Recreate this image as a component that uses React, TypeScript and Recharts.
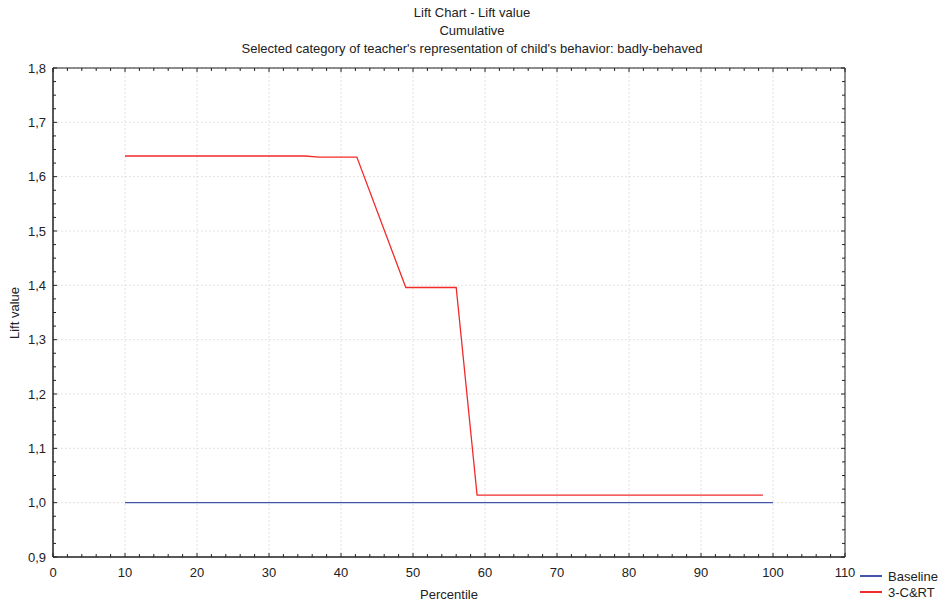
import React from "react";
import {
  LineChart,
  Line,
  XAxis,
  YAxis,
  CartesianGrid,
  ReferenceArea,
} from "recharts";

const titleLines = [
  "Lift Chart - Lift value",
  "Cumulative",
  "Selected category of teacher's representation of child's behavior: badly-behaved",
];

// percentile / lift value
const modelPct = [10, 35, 37, 42.2, 49, 56, 58.9, 98.6];
const modelLift = [1.638, 1.638, 1.636, 1.636, 1.396, 1.396, 1.014, 1.014];

const basePct = [10, 100];
const baseLift = [1.0, 1.0];

const xMajor = [0, 10, 20, 30, 40, 50, 60, 70, 80, 90, 100, 110];
const yMajor = [0.9, 1.0, 1.1, 1.2, 1.3, 1.4, 1.5, 1.6, 1.7, 1.8];

const seriesNames = ["Baseline", "3-C&RT"];
const seriesColors = ["#4257aa", "#f22a2a"];

const W = 944;
const H = 604;
const FONT = "'Liberation Sans', Arial, sans-serif";
const FS = 13;

// minor ticks: every 2 on x, every 0.025 on y
const xTicks: number[] = [];
for (let i = 0; i <= 55; i++) xTicks.push(i * 2);
const yTicks: number[] = [];
for (let i = 0; i <= 36; i++) yTicks.push(Math.round((0.9 + i * 0.025) * 1000) / 1000);

const isMajor = (v: number, step: number) =>
  Math.abs(v / step - Math.round(v / step)) < 1e-6;

const fmtY = (v: number) => v.toFixed(1).replace(".", ",");

const modelData = modelPct.map((p, i) => ({ pct: p, lift: modelLift[i] }));
const baseData = basePct.map((p, i) => ({ pct: p, lift: baseLift[i] }));

function BottomTick(props: any) {
  const { x, y, payload } = props;
  const major = isMajor(payload.value, 10);
  return (
    <g>
      <line x1={x} x2={x} y1={y} y2={y - (major ? 4 : 3)} stroke="#222" />
      {major && (
        <text x={x} y={y + 20} textAnchor="middle" fontSize={FS} fill="#222" fontFamily={FONT}>
          {payload.value}
        </text>
      )}
    </g>
  );
}

function TopTick(props: any) {
  const { x, y, payload } = props;
  const major = isMajor(payload.value, 10);
  return <line x1={x} x2={x} y1={y} y2={y + (major ? 4 : 3)} stroke="#222" />;
}

function LeftTick(props: any) {
  const { x, y, payload } = props;
  const major = isMajor(payload.value, 0.1);
  return (
    <g>
      <line x1={x} x2={x + (major ? 4 : 3)} y1={y} y2={y} stroke="#222" />
      {major && (
        <text x={x - 7} y={y + 4.5} textAnchor="end" fontSize={FS} fill="#222" fontFamily={FONT}>
          {fmtY(payload.value)}
        </text>
      )}
    </g>
  );
}

function RightTick(props: any) {
  const { x, y, payload } = props;
  const major = isMajor(payload.value, 0.1);
  return <line x1={x} x2={x - (major ? 4 : 3)} y1={y} y2={y} stroke="#222" />;
}

export default function App() {
  return (
    <div style={{ position: "absolute", left: 0, top: 0, width: W, height: H, fontFamily: FONT }}>
      {titleLines.map((t, i) => (
        <div
          key={i}
          style={{
            position: "absolute",
            left: 0,
            width: W,
            top: 4 + i * 18,
            textAlign: "center",
            fontSize: FS,
            color: "#222",
            lineHeight: "18px",
          }}
        >
          {t}
        </div>
      ))}

      <LineChart
        width={W}
        height={H}
        margin={{ top: 67, right: 98, bottom: 17, left: 0 }}
        style={{ position: "absolute", left: 0, top: 0 }}
      >
        <CartesianGrid
          stroke="#e2e2e2"
          strokeDasharray="2 2"
          verticalValues={xMajor}
          horizontalValues={yMajor}
        />
        <XAxis
          xAxisId={0}
          type="number"
          dataKey="pct"
          domain={[0, 110]}
          ticks={xTicks}
          interval={0}
          tickSize={0}
          tickMargin={0}
          tickLine={false}
          height={30}
          axisLine={{ stroke: "#222" }}
          tick={<BottomTick />}
          allowDataOverflow
        />
        <XAxis
          xAxisId="top"
          orientation="top"
          type="number"
          dataKey="pct"
          domain={[0, 110]}
          ticks={xTicks}
          interval={0}
          tickSize={0}
          tickMargin={0}
          tickLine={false}
          height={1}
          axisLine={false}
          tick={<TopTick />}
          allowDataOverflow
        />
        <YAxis
          yAxisId={0}
          type="number"
          domain={[0.9, 1.8]}
          ticks={yTicks}
          interval={0}
          tickSize={0}
          tickMargin={0}
          tickLine={false}
          width={53}
          axisLine={{ stroke: "#222" }}
          tick={<LeftTick />}
          allowDataOverflow
        />
        <YAxis
          yAxisId="right"
          orientation="right"
          type="number"
          domain={[0.9, 1.8]}
          ticks={yTicks}
          interval={0}
          tickSize={0}
          tickMargin={0}
          tickLine={false}
          width={1}
          axisLine={false}
          tick={<RightTick />}
          allowDataOverflow
        />
        <ReferenceArea
          x1={0}
          x2={110}
          y1={0.9}
          y2={1.8}
          fill="none"
          fillOpacity={0}
          stroke="#222"
          strokeWidth={1}
          ifOverflow="visible"
        />
        <Line
          data={baseData}
          dataKey="lift"
          type="linear"
          stroke={seriesColors[0]}
          strokeWidth={1.3}
          dot={false}
          isAnimationActive={false}
        />
        <Line
          data={modelData}
          dataKey="lift"
          type="linear"
          stroke={seriesColors[1]}
          strokeWidth={1.3}
          dot={false}
          isAnimationActive={false}
        />
        {/* keep the helper axes bound to an invisible series so they render */}
        <Line
          data={baseData}
          dataKey="lift"
          xAxisId="top"
          yAxisId="right"
          stroke="none"
          dot={false}
          activeDot={false}
          legendType="none"
          isAnimationActive={false}
        />
      </LineChart>

      <div
        style={{
          position: "absolute",
          left: 0,
          width: 898,
          top: 587,
          textAlign: "center",
          fontSize: FS,
          color: "#222",
        }}
      >
        Percentile
      </div>
      <div
        style={{
          position: "absolute",
          left: 14,
          top: 313,
          transform: "translate(-50%, -50%) rotate(-90deg)",
          fontSize: FS,
          color: "#222",
          whiteSpace: "nowrap",
        }}
      >
        Lift value
      </div>

      {seriesNames.map((name, i) => (
        <div
          key={name}
          style={{
            position: "absolute",
            left: 860,
            top: 568 + i * 16,
            height: 16,
            display: "flex",
            alignItems: "center",
            fontSize: FS,
            color: "#222",
          }}
        >
          <span
            style={{
              display: "inline-block",
              width: 22,
              height: 1.5,
              background: seriesColors[i],
              marginRight: 6,
            }}
          />
          {name}
        </div>
      ))}
    </div>
  );
}
